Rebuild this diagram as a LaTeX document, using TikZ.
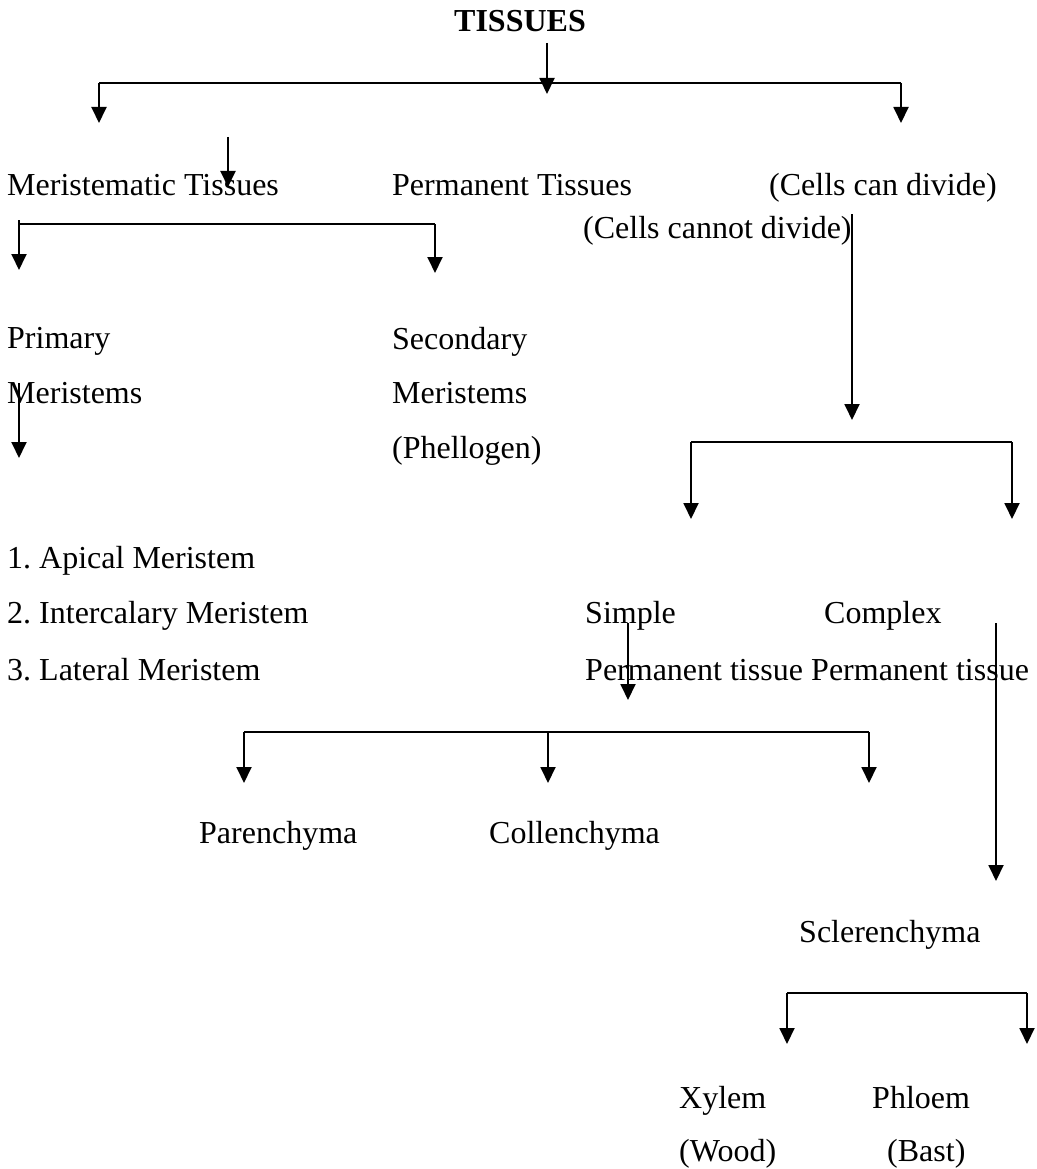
\documentclass[tikz,border=0pt]{standalone}
\usepackage{fontspec}
\setmainfont{Liberation Serif}
\usetikzlibrary{arrows.meta}
\frenchspacing
\begin{document}
\begin{tikzpicture}[x=1pt,y=-1pt,
  lbl/.style={anchor=base west,inner sep=0pt,font=\fontsize{32}{38}\selectfont},
  ttl/.style={lbl,font=\fontsize{32}{38}\selectfont\bfseries},
  link/.style={line width=1.9pt},
  arr/.style={link,-{Triangle[length=16pt,width=15pt]}}]
\useasboundingbox (0,0) rectangle (1036,1169);

% labels
\node[ttl] (tissues) at (454,32) {TISSUES};
\node[lbl] (mer) at (7,196) {Meristematic Tissues};
\node[lbl] (perm) at (392,196) {Permanent Tissues};
\node[lbl] (can) at (769,196) {(Cells can divide)};
\node[lbl] (cannot) at (583,238) {(Cells cannot divide)};
\node[lbl] (prim1) at (7,348) {Primary};
\node[lbl] (prim2) at (7,403) {Meristems};
\node[lbl] (sec1) at (392,349) {Secondary};
\node[lbl] (sec2) at (392,403) {Meristems};
\node[lbl] (sec3) at (392,458) {(Phellogen)};
\node[lbl] (ap) at (7,568) {1.\ Apical Meristem};
\node[lbl] (ic) at (7,623) {2.\ Intercalary Meristem};
\node[lbl] (lat) at (7,680) {3.\ Lateral Meristem};
\node[lbl] (simple) at (585,623) {Simple};
\node[lbl] (complex) at (824,623) {Complex};
\node[lbl] (spt) at (585,680) {Permanent tissue};
\node[lbl] (cpt) at (811,680) {Permanent tissue};
\node[lbl] (paren) at (199,843) {Parenchyma};
\node[lbl] (coll) at (489,843) {Collenchyma};
\node[lbl] (scler) at (799,942) {Sclerenchyma};
\node[lbl] (xyl) at (679,1108) {Xylem};
\node[lbl] (phl) at (872,1108) {Phloem};
\node[lbl] (wood) at (679,1161) {(Wood)};
\node[lbl] (bast) at (887,1161) {(Bast)};

% junction points
\coordinate (a0) at (547,43);  \coordinate (a1) at (547,94);
\coordinate (b0) at (99,83);   \coordinate (b1) at (901,83);
\coordinate (b0t) at (99,123); \coordinate (b1t) at (901,123);
\coordinate (c0) at (228,137); \coordinate (c1) at (228,187);
\coordinate (d0) at (19,220);  \coordinate (d1) at (19,224);
\coordinate (d2) at (435,224);
\coordinate (d1t) at (19,270); \coordinate (d2t) at (435,273);
\coordinate (e0) at (19,383);  \coordinate (e1) at (19,458);
\coordinate (f0) at (852,214); \coordinate (f1) at (852,420);
\coordinate (g0) at (691,442); \coordinate (g1) at (1012,442);
\coordinate (g0t) at (691,519); \coordinate (g1t) at (1012,519);
\coordinate (h0) at (628,623); \coordinate (h1) at (628,700);
\coordinate (i0) at (244,732); \coordinate (i1) at (548,732); \coordinate (i2) at (869,732);
\coordinate (i0t) at (244,783); \coordinate (i1t) at (548,783); \coordinate (i2t) at (869,783);
\coordinate (j0) at (996,623); \coordinate (j1) at (996,881);
\coordinate (k0) at (787,993); \coordinate (k1) at (1027,993);
\coordinate (k0t) at (787,1044); \coordinate (k1t) at (1027,1044);

% connectors
\draw[arr] (a0) -- (a1);
\draw[link] (b0) -- (b1);
\draw[arr] (b0) -- (b0t);
\draw[arr] (b1) -- (b1t);
\draw[arr] (c0) -- (c1);
\draw[link] (d1) -- (d2);
\draw[arr] (d0) -- (d1t);
\draw[arr] (d2) -- (d2t);
\draw[arr] (e0) -- (e1);
\draw[arr] (f0) -- (f1);
\draw[link] (g0) -- (g1);
\draw[arr] (g0) -- (g0t);
\draw[arr] (g1) -- (g1t);
\draw[arr] (h0) -- (h1);
\draw[link] (i0) -- (i2);
\draw[arr] (i0) -- (i0t);
\draw[arr] (i1) -- (i1t);
\draw[arr] (i2) -- (i2t);
\draw[arr] (j0) -- (j1);
\draw[link] (k0) -- (k1);
\draw[arr] (k0) -- (k0t);
\draw[arr] (k1) -- (k1t);
\end{tikzpicture}
\end{document}
